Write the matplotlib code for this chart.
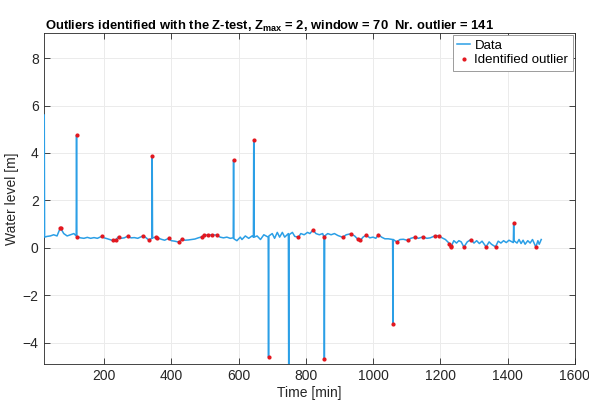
import numpy as np
import matplotlib.pyplot as plt

plt.rcParams['font.family'] = ['Liberation Sans', 'DejaVu Sans']
plt.rcParams['mathtext.fontset'] = 'custom'
plt.rcParams['mathtext.rm'] = 'Liberation Sans'
plt.rcParams['mathtext.bf'] = 'Liberation Sans:bold'

# water level record (time in min, level in m)
time_min = [22, 23, 30, 40, 50, 60, 70, 71, 80, 90, 100, 110, 117, 118, 119, 130, 140, 150,
            160, 170, 180, 194, 200, 210, 225, 234, 243, 250, 260, 270, 280, 290, 300,
            317, 325, 333, 342, 343, 344, 354, 358, 370, 380, 392, 400, 410, 422, 432,
            440, 450, 460, 470, 480, 490, 496, 510, 522, 535, 545, 555, 565, 575, 584,
            585, 586, 595, 605, 610, 620, 630, 640, 644, 645, 646, 655, 665, 675, 688, 689,
            690, 700, 707, 715, 722, 730, 737, 748, 749, 750, 760, 767, 778, 785, 795,
            805, 812, 821, 830, 840, 850, 854, 855, 856, 865, 875, 885, 895, 910, 920,
            933, 945, 954, 962, 970, 980, 990, 1000, 1008, 1016, 1025, 1035, 1045, 1058,
            1059, 1060, 1070, 1080, 1090, 1103, 1112, 1125, 1135, 1148, 1160, 1170, 1185,
            1195, 1205, 1215, 1227, 1231, 1233, 1240, 1248, 1255, 1262, 1270, 1280, 1291,
            1300, 1308, 1316, 1324, 1336, 1345, 1352, 1364, 1372, 1380, 1388, 1396, 1404,
            1417, 1418, 1419, 1428, 1434, 1440, 1446, 1452, 1460, 1467, 1474, 1484, 1490,
            1494, 1500]
level_m = [5.6, 0.45, 0.48, 0.5, 0.55, 0.5, 0.85, 0.82, 0.6, 0.5, 0.55, 0.6, 0.5, 4.74, 0.47,
           0.42, 0.4, 0.44, 0.4, 0.43, 0.4, 0.49, 0.42, 0.38, 0.31, 0.33, 0.47, 0.4, 0.42,
           0.49, 0.42, 0.43, 0.4, 0.51, 0.42, 0.33, 0.4, 3.87, 0.42, 0.45, 0.43, 0.36, 0.32,
           0.4, 0.3, 0.28, 0.24, 0.38, 0.32, 0.33, 0.35, 0.37, 0.42, 0.46, 0.52, 0.55, 0.54,
           0.54, 0.45, 0.42, 0.45, 0.4, 0.42, 3.71, 0.38, 0.3, 0.45, 0.35, 0.5, 0.4, 0.5,
           0.45, 4.55, 0.45, 0.5, 0.35, 0.55, 0.45, -4.61, 0.5, 0.6, 0.4, 0.65, 0.45, 0.65,
           0.45, 0.6, -5.6, 0.55, 0.65, 0.48, 0.45, 0.6, 0.55, 0.65, 0.6, 0.75, 0.6, 0.55,
           0.6, 0.44, -4.71, 0.5, 0.6, 0.55, 0.6, 0.52, 0.44, 0.55, 0.59, 0.5, 0.37, 0.31,
           0.45, 0.54, 0.42, 0.45, 0.4, 0.56, 0.45, 0.38, 0.38, 0.35, -3.23, 0.35, 0.25,
           0.35, 0.36, 0.31, 0.4, 0.45, 0.4, 0.46, 0.4, 0.42, 0.51, 0.51, 0.42, 0.35, 0.18,
           0.04, 0.08, 0.3, 0.2, 0.3, 0.25, 0.03, 0.25, 0.35, 0.2, 0.3, 0.18, 0.28, 0.04,
           0.25, 0.15, 0.04, 0.28, 0.2, 0.3, 0.22, 0.32, 0.22, 1.03, 0.3, 0.2, 0.35, 0.18,
           0.32, 0.15, 0.3, 0.2, 0.35, 0.03, 0.3, 0.15, 0.35]

# samples flagged by the Z-test
outlier_min = [70, 71, 118, 119, 194, 225, 234, 243, 270, 317, 333, 343, 354, 358, 392,
               422, 432, 490, 496, 510, 522, 535, 585, 645, 689, 778, 821, 854, 855, 910,
               933, 954, 962, 980, 1016, 1059, 1070, 1103, 1125, 1148, 1185, 1195, 1227,
               1231, 1233, 1270, 1291, 1336, 1364, 1418, 1484]

t = np.array(time_min)
h = np.array(level_m)
idx = [time_min.index(v) for v in outlier_min]

fig = plt.figure(figsize=(5.89, 4.0), dpi=100)
ax = fig.add_axes([0.074, 0.09, 0.902, 0.827])

ax.plot(t, h, color='#2b9fe6', lw=1.1, label='Data', zorder=3)
ax.plot(t[idx], h[idx], '.', color='#e3171f', ms=4, label='Identified outlier', zorder=4)

ax.set_xlim(20, 1600)
ax.set_ylim(-4.9, 9.05)
ax.set_xticks(range(200, 1601, 200))
ax.set_yticks(range(-4, 9, 2))
ax.grid(True, color='#ebebeb', lw=0.7)
ax.set_axisbelow(True)
ax.tick_params(direction='in', top=True, right=True, length=4, labelsize=10,
               colors='#262626', width=0.6)
for s in ax.spines.values():
    s.set_color('#262626')
    s.set_linewidth(0.6)

ax.set_xlabel('Time [min]', fontsize=10, color='#262626', labelpad=2)
ax.set_ylabel('Water level [m]', fontsize=10, color='#262626', labelpad=3)
fig.text(0.457, 0.925, r'Outliers identified with the Z-test, Z$_{\mathbf{max}}$ = 2, window = 70  Nr. outlier = 141',
         ha='center', va='baseline', fontsize=9.4, fontweight='bold')

leg = ax.legend(loc='upper right', fontsize=9.5, fancybox=False, framealpha=1,
                edgecolor='#8c8c8c', borderaxespad=0.15, handlelength=1.0,
                handletextpad=0.3, borderpad=0.35, labelspacing=0.15)
leg.get_frame().set_linewidth(0.6)
leg.set_zorder(5)

fig.savefig('out.png', dpi=100)
